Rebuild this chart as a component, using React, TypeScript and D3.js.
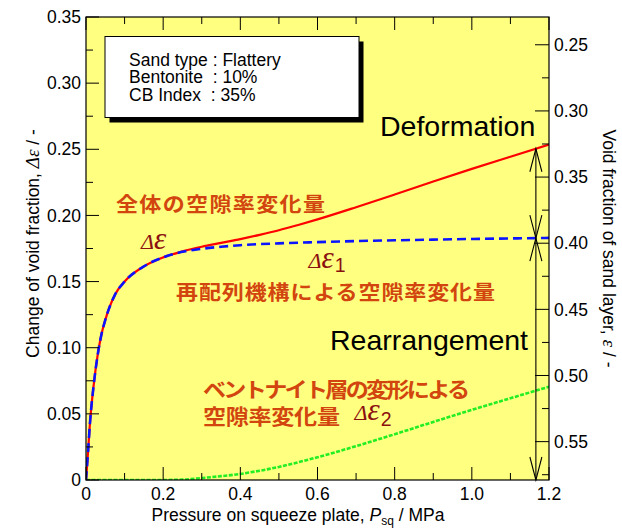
import React from 'react';
import * as d3 from 'd3';

// ---- data ----
const PRESSURE = [0, 0.005, 0.01, 0.02, 0.03, 0.04, 0.05, 0.075, 0.1, 0.15, 0.2, 0.25, 0.3, 0.35, 0.4, 0.45, 0.5, 0.55, 0.6, 0.7, 0.8, 0.9, 1.0, 1.1, 1.2];
const DE_TOTAL = [0, 0.020, 0.042, 0.072, 0.094, 0.110, 0.121, 0.140, 0.150, 0.1615, 0.1683, 0.1728, 0.1763, 0.1792, 0.1821, 0.1853, 0.1888, 0.1928, 0.1970, 0.2062, 0.2158, 0.2256, 0.2352, 0.2444, 0.2535];
const DE_REARR = [0, 0.020, 0.042, 0.072, 0.094, 0.110, 0.121, 0.140, 0.150, 0.1615, 0.1683, 0.1725, 0.1748, 0.1763, 0.1775, 0.1783, 0.1789, 0.1794, 0.1798, 0.1806, 0.1812, 0.1817, 0.1822, 0.1826, 0.1830];
const DE_BENT = [0, 0, 0, 0, 0, 0, 0, 0, 0, 0, 0, 0.0003, 0.0015, 0.0029, 0.0046, 0.0070, 0.0099, 0.0134, 0.0172, 0.0256, 0.0346, 0.0439, 0.0530, 0.0618, 0.0705];

const X_TICKS = [0, 0.2, 0.4, 0.6, 0.8, 1.0, 1.2];
const X_TICK_LABELS = ['0', '0.2', '0.4', '0.6', '0.8', '1.0', '1.2'];
const LEFT_TICKS = [0, 0.05, 0.10, 0.15, 0.20, 0.25, 0.30, 0.35];
const LEFT_TICK_LABELS = ['0', '0.05', '0.10', '0.15', '0.20', '0.25', '0.30', '0.35'];
const RIGHT_TICKS = [0.25, 0.30, 0.35, 0.40, 0.45, 0.50, 0.55];
const RIGHT_TICK_LABELS = ['0.25', '0.30', '0.35', '0.40', '0.45', '0.50', '0.55'];
const EPS_AT_ZERO = 0.579; // void fraction of sand layer at zero change

const LEGEND_LINES = ['Sand type : Flattery', 'Bentonite  : 10%', 'CB Index  : 35%'];
const JP_TOTAL = '全体の空隙率変化量';
const JP_REARR = '再配列機構による空隙率変化量';
const JP_BENT_1 = 'ベントナイト層の変形による';
const JP_BENT_2 = '空隙率変化量';
const ARROW_P = 1.166;

const W = 622, H = 528;
const L = 86, R = 549, T = 17, B = 480;

const JP_COLOR = '#D2450F';
const GREEK_COLOR = '#8B1010';
const SANS = '"Liberation Sans", Arial, Helvetica, sans-serif';
const SERIF = '"Liberation Serif", "Times New Roman", serif';
const CJK = '"Noto Sans CJK JP", "Noto Sans CJK SC", sans-serif';

function interp(p: number, ys: number[]) {
  const i = d3.bisectRight(PRESSURE, p) - 1;
  if (i >= PRESSURE.length - 1) return ys[ys.length - 1];
  const t = (p - PRESSURE[i]) / (PRESSURE[i + 1] - PRESSURE[i]);
  return ys[i] + t * (ys[i + 1] - ys[i]);
}

function JP({ x, y, w, size, text }: { x: number; y: number; w: number; size: number; text: string }) {
  const sx = 1.1;
  return (
    <text transform={`translate(${x},${y}) scale(${sx},1)`} fontSize={size} textLength={w / sx} lengthAdjust="spacing">
      {text}
    </text>
  );
}

function Greek({ x, y, sub, dy }: { x: number; y: number; sub?: string; dy?: number }) {
  return (
    <text x={x} y={y} fill={GREEK_COLOR} fontFamily={SERIF} fontStyle="italic">
      <tspan fontSize={22}>Δ</tspan>
      <tspan fontSize={31}>ε</tspan>
      {sub ? (
        <tspan fontFamily={SANS} fontStyle="normal" fontSize={19.5} dy={dy} dx={1}>{sub}</tspan>
      ) : null}
    </text>
  );
}

export default function App() {
  const x = d3.scaleLinear().domain([0, 1.2]).range([L, R]);
  const y = d3.scaleLinear().domain([0, 0.35]).range([B, T]);
  const yR = d3.scaleLinear().domain([EPS_AT_ZERO, EPS_AT_ZERO - 0.35]).range([B, T]);

  const mk = (ys: number[]) =>
    d3.line<number>().x((_, i) => x(PRESSURE[i])).y((d) => y(d)).curve(d3.curveMonotoneX)(ys) || '';

  const xMinor = d3.range(0, 1.2001, 0.1);
  const yMinor = d3.range(0, 0.3501, 0.025);
  const rMinor = d3.range(0.25, 0.5751, 0.025);

  const ax = x(ARROW_P);
  const yTop = y(interp(ARROW_P, DE_TOTAL));
  const yMid = y(interp(ARROW_P, DE_REARR));
  const yBot = y(0);
  const AL = 23, AW = 6;
  const head = (tipY: number, dir: number) =>
    `M${ax - AW},${tipY + dir * AL} L${ax},${tipY} L${ax + AW},${tipY + dir * AL}`;

  const tickStyle = { stroke: '#000', strokeWidth: 1 };

  return (
    <svg width={W} height={H} style={{ position: 'absolute', left: 0, top: 0, background: '#fff' }}>
      <defs>
        <clipPath id="plotclip">
          <rect x={L} y={T} width={R - L} height={B - T} />
        </clipPath>
      </defs>
      <rect x={L} y={T} width={R - L} height={B - T} fill="#FFFF80" />

      <g clipPath="url(#plotclip)" fill="none">
        <path d={mk(DE_BENT)} stroke="#22EE22" strokeWidth={2.6} strokeDasharray="4,1.5" />
        <path d={mk(DE_TOTAL)} stroke="#FF0000" strokeWidth={2.2} />
        <path d={mk(DE_REARR)} stroke="#0A14FF" strokeWidth={2.6} strokeDasharray="9,5" />
      </g>

      {/* arrows */}
      <g fill="none" stroke="#000" strokeWidth={1.1}>
        <line x1={ax} x2={ax} y1={yTop} y2={yBot} />
        <path d={head(yTop, 1)} />
        <path d={head(yMid, -1)} />
        <path d={head(yMid, 1)} />
        <path d={head(yBot, -1)} />
      </g>

      {/* legend box */}
      <rect x={109.5} y={41.5} width={254} height={81} fill="#000" />
      <rect x={105} y={36.5} width={254} height={81} fill="#fff" stroke="#000" strokeWidth={1} />
      {LEGEND_LINES.map((t, i) => (
        <text key={t} x={129} y={65.5 + i * 17.6} fontFamily={SANS} fontSize={17.5} xmlSpace="preserve" style={{ whiteSpace: 'pre' }}>
          {t}
        </text>
      ))}

      {/* big labels */}
      <text x={380} y={136} fontFamily={SANS} fontSize={28.5}>Deformation</text>
      <text x={330} y={350} fontFamily={SANS} fontSize={28.5}>Rearrangement</text>

      {/* Japanese labels */}
      <g fontFamily={CJK} fontWeight={700} fill={JP_COLOR}>
        <JP x={116} y={212} w={209} size={20} text={JP_TOTAL} />
        <JP x={176} y={299.5} w={319} size={20} text={JP_REARR} />
        <JP x={203} y={397} w={267} size={21} text={JP_BENT_1} />
        <JP x={203} y={424} w={137} size={21} text={JP_BENT_2} />
      </g>

      {/* Greek labels */}
      <Greek x={141} y={249} />
      <Greek x={308.5} y={267.7} sub="1" dy={4.6} />
      <Greek x={354.5} y={420} sub="2" dy={6} />

      {/* frame */}
      <rect x={L} y={T} width={R - L} height={B - T} fill="none" stroke="#000" strokeWidth={1.2} />

      {/* x ticks bottom + top */}
      {xMinor.map((v, i) => {
        const major = i % 2 === 0;
        const len = major ? 13 : 7;
        return (
          <g key={'xt' + i}>
            <line x1={x(v)} x2={x(v)} y1={B} y2={B - len} {...tickStyle} />
            <line x1={x(v)} x2={x(v)} y1={T} y2={T + len} {...tickStyle} />
          </g>
        );
      })}
      {X_TICKS.map((v, i) => (
        <text key={'xl' + i} x={x(v)} y={499.5} textAnchor="middle" fontFamily={SANS} fontSize={17.5}>
          {X_TICK_LABELS[i]}
        </text>
      ))}

      {/* left ticks */}
      {yMinor.map((v, i) => {
        const len = i % 2 === 0 ? 13 : 7;
        return <line key={'yt' + i} x1={L} x2={L + len} y1={y(v)} y2={y(v)} {...tickStyle} />;
      })}
      {LEFT_TICKS.map((v, i) => (
        <text key={'yl' + i} x={81} y={y(v) + 6.2} textAnchor="end" fontFamily={SANS} fontSize={17.5}>
          {LEFT_TICK_LABELS[i]}
        </text>
      ))}

      {/* right ticks */}
      {rMinor.map((v, i) => {
        const len = i % 2 === 0 ? 14 : 7;
        return <line key={'rt' + i} x1={R} x2={R - len} y1={yR(v)} y2={yR(v)} {...tickStyle} />;
      })}
      {RIGHT_TICKS.map((v, i) => (
        <text key={'rl' + i} x={554} y={yR(v) + 6.2} fontFamily={SANS} fontSize={17.5}>
          {RIGHT_TICK_LABELS[i]}
        </text>
      ))}

      {/* axis titles */}
      <text x={298} y={521} textAnchor="middle" fontFamily={SANS} fontSize={17.5}>
        Pressure on squeeze plate, <tspan fontStyle="italic">P</tspan>
        <tspan fontSize={12} dy={4}>sq</tspan>
        <tspan dy={-4}> / MPa</tspan>
      </text>
      <text transform={`translate(39,${(T + B) / 2 - 5}) rotate(-90)`} textAnchor="middle" fontFamily={SANS} fontSize={17.5}>
        Change of void fraction, <tspan fontFamily={SERIF} fontStyle="italic" fontSize={19}>Δε</tspan> / -
      </text>
      <text transform={`translate(603,${(T + B) / 2}) rotate(90)`} textAnchor="middle" fontFamily={SANS} fontSize={17.5}>
        Void fraction of sand layer, <tspan fontFamily={SERIF} fontStyle="italic" fontSize={19}>ε</tspan> / -
      </text>
    </svg>
  );
}
